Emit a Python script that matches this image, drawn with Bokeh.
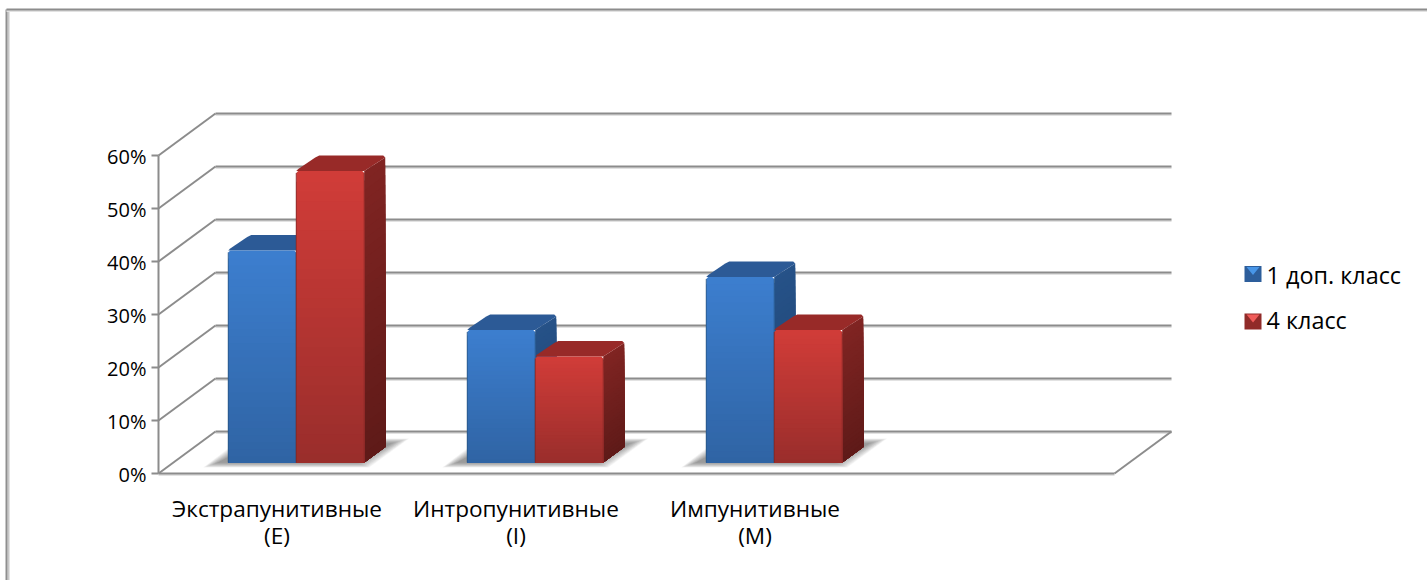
from bokeh.plotting import figure
from bokeh.models import Range1d
from bokeh.core.properties import value
from bokeh.embed import file_html
from bokeh.resources import INLINE

# --- chart data ---
categories = [("Экстрапунитивные", "(E)"), ("Интропунитивные", "(I)"), ("Импунитивные", "(M)")]
series_names = ["1 доп. класс", "4 класс"]
first_grade = [40, 25, 35]
fourth_grade = [55, 20, 25]
y_ticks = [0, 10, 20, 30, 40, 50, 60]
slots = 4

FONT = "Open Sans"
LABEL_SIZE = "22.6px"
LEGEND_SIZE = "23.4px"
TICK_SIZE = "20px"
W, H = 1427, 580
X0, Y0 = 158.0, 473.0          # page position of the front corner of the axes
PX_X, PX_Y = 239.0, 5.3        # pixels per category slot and per percent
DEPTH_X, DEPTH_Y = 57.0, 42.0  # page offset of the back wall from the front plane
GREY = "#8c8c8c"
HALO = "#e2e2e2"

p = figure(width=W, height=H, output_backend="svg", toolbar_location=None,
           x_range=Range1d(-X0 / PX_X, (W - X0) / PX_X),
           y_range=Range1d((Y0 - H) / PX_Y, Y0 / PX_Y),
           min_border=0, outline_line_color=None,
           background_fill_color="white", border_fill_color="white")
p.xaxis.visible = False
p.yaxis.visible = False
p.grid.visible = False


# oblique projection: category x, percent y, depth d (0 front .. 1 back)
def px(x, d=0.0):
    return x + d * DEPTH_X / PX_X


def py(y, d=0.0):
    return y + d * DEPTH_Y / PX_Y


def dx(pixels):
    return pixels / PX_X


def dy(pixels):
    return pixels / PX_Y


def rule(xs, ys):
    """A chart line with the soft pale edge it carries below it."""
    p.line(xs, [y - dy(1.5) for y in ys], line_color=HALO, line_width=2)
    p.line(xs, ys, line_color=GREY, line_width=2)


# chart area frame, cut off by the page on the right and bottom
frame_x, frame_y = -X0 / PX_X + dx(6), Y0 / PX_Y - dy(9)
p.line([frame_x + dx(2)] * 2, [frame_y, (Y0 - H) / PX_Y], line_color="#c8c8c8", line_width=2)
p.line([frame_x, frame_x], [frame_y, (Y0 - H) / PX_Y], line_color="#8f8f8f", line_width=2)
rule([frame_x, (W - X0) / PX_X], [frame_y, frame_y])

# gridlines: along the back wall and down the side wall
for t in y_ticks:
    rule([px(0, 1), px(slots, 1)], [py(t, 1), py(t, 1)])
    p.line([px(0, 0), px(0, 1)], [py(t, 0), py(t, 1)], line_color=GREY, line_width=2)
    p.line([px(0) - dx(7), px(0)], [t, t], line_color=GREY, line_width=2)
    p.text([px(0) - dx(12)], [t - dy(1)], text=[f"{t}%"], text_align="right", text_baseline="middle",
           text_font=value(FONT), text_font_size=TICK_SIZE, text_color="#000000")

# floor outline and vertical axis
rule([px(0, 0), px(slots, 0)], [0, 0])
p.line([px(slots, 0), px(slots, 1)], [0, py(0, 1)], line_color=GREY, line_width=2)
p.line([px(0), px(0)], [0, 60], line_color=GREY, line_width=2)

d_front = 0.262
d_back = d_front + 21.0 / DEPTH_X
bar_w = 68.0 / PX_X
gap_left = (1 - 2 * bar_w) / 2 + dx(3.3)


def mix(a, b, t):
    return "#%02x%02x%02x" % tuple(round(a[i] + (b[i] - a[i]) * t) for i in range(3))


# soft floor shadow beneath each pair of bars: a parallelogram whose edges fade
shadow_layers = 16
for i in range(len(categories)):
    xl = px(i + gap_left, d_front)
    xr = xl + 2 * bar_w
    base = py(0, d_front)
    for k in range(shadow_layers):
        g = k / (shadow_layers - 1)
        xs = [xl - dx(25 - 15 * g), xl + dx(13 + 15 * g), xr + dx(45 - 18 * g), xr + dx(5 - 14 * g)]
        ys = [base - dy(5 - 5 * g), base + dy(24 - 5 * g), base + dy(24 - 5 * g), base - dy(5 - 5 * g)]
        p.patch(xs, ys, fill_color="#6a6a6a", fill_alpha=0.06, line_color=None)

BLUE = dict(top=(60, 126, 206), bottom=(47, 99, 163), cap=(44, 90, 150),
            side_top=(38, 82, 136), side_bottom=(30, 66, 112), edge="#27527f")
RED = dict(top=(208, 60, 56), bottom=(152, 45, 43), cap=(152, 42, 40),
           side_top=(128, 36, 34), side_bottom=(94, 26, 24), edge="#7d2725")
BANDS = 30


def bar(x_left, val, col):
    x_right = x_left + bar_w
    fl, fr = px(x_left, d_front), px(x_right, d_front)
    bl, br = px(x_left, d_back), px(x_right, d_back)
    top_f, top_b = py(val, d_front), py(val, d_back)
    floor_f, floor_b = py(0, d_front), py(0, d_back)
    c = 2.0

    # side face, banded from the top edge down to the floor
    for b in range(BANDS):
        t = b / BANDS
        v = val * (1 - t)
        drop = dy(c) if b == 0 else 0
        p.patch([fr, br, br, fr], [floor_f, floor_b, py(v, d_back) - drop, py(v, d_front)],
                fill_color=mix(col["side_top"], col["side_bottom"], t), line_color=None)

    # top face with softened corners
    p.patch([fl, fl + dx(c), bl - dx(c), bl + dx(c), br - dx(c), br, fr],
            [top_f, top_f + dy(c), top_b - dy(c), top_b, top_b, top_b - dy(c), top_f],
            fill_color=mix(col["cap"], col["cap"], 0), line_color=None)

    # front face; every band runs down to the floor so no seams show
    for b in range(BANDS):
        t = b / BANDS
        v = val * (1 - t)
        if b == 0:
            p.patch([fl, fl, fl + dx(c), fr - dx(c), fr, fr],
                    [floor_f, py(v, d_front) - dy(c), py(v, d_front), py(v, d_front),
                     py(v, d_front) - dy(c), floor_f],
                    fill_color=mix(col["top"], col["bottom"], t), line_color=None)
        else:
            p.quad(left=[fl], right=[fr], bottom=[floor_f], top=[py(v, d_front) - dy(1)],
                   fill_color=mix(col["top"], col["bottom"], t), line_color=None)

    # darker bevel along the vertical edges
    for xe in (fl, fr):
        p.line([xe, xe], [floor_f, top_f - dy(c)], line_color=col["edge"], line_width=1, line_alpha=0.75)


for i, (a, b) in enumerate(zip(first_grade, fourth_grade)):
    x_left = i + gap_left
    bar(x_left, a, BLUE)
    bar(x_left + bar_w, b, RED)

# category labels, two lines each, centred under the slots
for i, (first, second) in enumerate(categories):
    cx = i + 0.5 - dx(1)
    for line, off in ((first, 35), (second, 62)):
        p.text([cx], [-dy(off)], text=[line], text_align="center", text_baseline="middle",
               text_font=value(FONT), text_font_size=LABEL_SIZE, text_color="#000000")

# legend
lx = (1244 - X0) / PX_X
LEGEND_TIP = {"blue": (72, 150, 232), "red": (240, 92, 90)}
for name, yy, text_y, col, tip in ((series_names[0], 273.5, 274, BLUE, "blue"),
                                   (series_names[1], 321, 319, RED, "red")):
    ly = (Y0 - yy) / PX_Y
    s, sx = dy(8), dx(8.5)
    p.quad(left=[lx], right=[lx + 2 * sx], bottom=[ly - s], top=[ly + s],
           fill_color=mix(col["bottom"], (0, 0, 0), 0.05), line_color=None)
    p.patch([lx + dx(2), lx + 2 * sx - dx(2), lx + sx],
            [ly + s - dy(1), ly + s - dy(1), ly - dy(1)],
            fill_color=mix(LEGEND_TIP[tip], LEGEND_TIP[tip], 0), line_color=None)
    p.text([lx + dx(22)], [(Y0 - text_y) / PX_Y], text=[name], text_align="left", text_baseline="middle",
           text_font=value(FONT), text_font_size=LEGEND_SIZE, text_color="#000000")

with open("out.html", "w") as f:
    f.write(file_html(p, INLINE))
